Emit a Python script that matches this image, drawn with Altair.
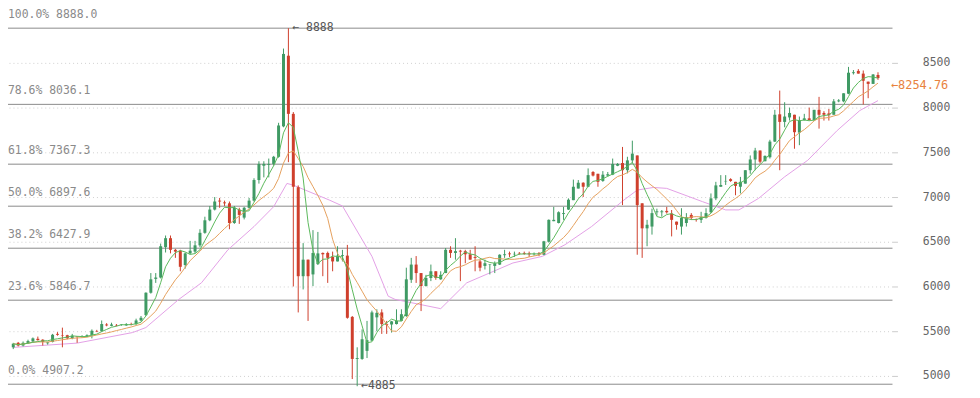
import altair as alt
import pandas as pd

# ---- candle data (index 0..176) ----
opens = [5320, 5370, 5340, 5365, 5385, 5415, 5405, 5365, 5380, 5470,
         5455, 5455, 5420, 5440, 5440, 5440, 5455, 5500, 5500, 5575,
         5560, 5570, 5570, 5565, 5580, 5580, 5620, 5680, 5930, 6085,
         6100, 6440, 6540, 6410, 6400, 6240, 6370, 6390, 6460, 6600,
         6740, 6860, 6960, 6940, 6930, 6710, 6860, 6770, 6880, 6960,
         7190, 7350, 7360, 7370, 7450, 7790, 8580, 7930, 7110, 6115,
         6300, 6135, 6250, 6375, 6375, 6330, 6280, 6340, 6345, 5660,
         5190, 5190, 5280, 5395, 5655, 5710, 5580, 5575, 5580, 5615,
         5670, 6075, 6245, 6150, 6005, 6095, 6170, 6080, 6150, 6410,
         6375, 6400, 6395, 6360, 6330, 6280, 6230, 6245, 6230, 6245,
         6350, 6370, 6360, 6375, 6375, 6370, 6360, 6370, 6355, 6500,
         6730, 6710, 6810, 6860, 6965, 7095, 7160, 7115, 7280, 7260,
         7180, 7240, 7250, 7350, 7380, 7300, 7410, 7465, 6930, 6650,
         6670, 6830, 6830, 6845, 6815, 6725, 6670, 6710, 6800, 6750,
         6745, 6765, 6830, 6985, 7115, 7175, 7200, 7170, 7115, 7150,
         7300, 7420, 7520, 7400, 7445, 7620, 7925, 7840, 7890, 7920,
         7720, 7860, 7880, 7860, 7975, 7940, 7935, 7920, 8070, 8070,
         8155, 8385, 8410, 8380, 8290, 8265, 8365]
highs = [5370, 5380, 5385, 5405, 5430, 5440, 5410, 5380, 5470, 5490,
         5540, 5460, 5470, 5440, 5455, 5465, 5520, 5515, 5620, 5590,
         5595, 5580, 5580, 5590, 5595, 5640, 5670, 5935, 6150, 6150,
         6480, 6570, 6570, 6420, 6410, 6380, 6510, 6510, 6640, 6780,
         6900, 7000, 6990, 6960, 6950, 6900, 6880, 6890, 6990, 7210,
         7400, 7400, 7430, 7460, 7830, 8660, 8888, 7950, 7130, 6485,
         6300, 6630, 6610, 6380, 6390, 6390, 6450, 6410, 6465, 5670,
         5320, 5520, 5615, 5730, 5745, 5745, 5615, 5615, 5745, 5745,
         6210, 6320, 6340, 6150, 6130, 6245, 6170, 6170, 6430, 6450,
         6540, 6410, 6410, 6410, 6450, 6300, 6300, 6250, 6280, 6360,
         6410, 6390, 6390, 6385, 6390, 6390, 6380, 6385, 6510, 6750,
         6890, 6840, 6890, 6985, 7195, 7190, 7165, 7320, 7290, 7260,
         7290, 7280, 7430, 7380, 7560, 7450, 7630, 7465, 6930, 6745,
         6870, 6870, 6855, 6890, 6855, 6725, 6875, 6820, 6820, 6760,
         6835, 6875, 7040, 7170, 7245, 7245, 7210, 7170, 7225, 7300,
         7465, 7550, 7520, 7465, 7640, 7975, 8190, 8060, 8000, 7920,
         7900, 7930, 8000, 7975, 8120, 7960, 7985, 8095, 8095, 8160,
         8455, 8420, 8430, 8415, 8290, 8375, 8395]
lows = [5300, 5330, 5330, 5360, 5380, 5395, 5340, 5350, 5375, 5450,
        5320, 5410, 5410, 5370, 5430, 5435, 5420, 5490, 5495, 5555,
        5555, 5555, 5560, 5560, 5565, 5570, 5610, 5670, 5920, 6040,
        6090, 6380, 6370, 6320, 6170, 6200, 6360, 6370, 6440, 6590,
        6730, 6850, 6880, 6900, 6640, 6700, 6700, 6750, 6870, 6950,
        7150, 7220, 7220, 7350, 7440, 7780, 7390, 6000, 5710, 5967,
        5615, 6004, 6240, 6115, 6040, 6170, 6280, 6280, 5640, 4965,
        4885, 5180, 5200, 5390, 5500, 5470, 5470, 5485, 5575, 5610,
        5660, 6040, 6040, 5725, 6000, 6060, 6075, 6075, 6150, 6320,
        6300, 6060, 6260, 6300, 6170, 6170, 6190, 6135, 6150, 6240,
        6320, 6330, 6330, 6355, 6355, 6330, 6345, 6340, 6350, 6490,
        6730, 6705, 6745, 6855, 6965, 7095, 7000, 7110, 7230, 7115,
        7170, 7230, 7245, 7345, 6910, 7265, 7375, 6355, 6320, 6450,
        6580, 6790, 6780, 6815, 6560, 6635, 6580, 6670, 6745, 6725,
        6710, 6760, 6820, 6965, 7115, 7135, 7170, 7020, 7040, 7150,
        7260, 7300, 7375, 7400, 7430, 7615, 7300, 7780, 7855, 7540,
        7580, 7855, 7855, 7855, 7765, 7855, 7855, 7920, 8060, 8060,
        8150, 8370, 8380, 8035, 8105, 8265, 8310]
closes = [5360, 5340, 5370, 5390, 5420, 5400, 5380, 5375, 5460, 5460,
          5450, 5420, 5450, 5435, 5445, 5455, 5505, 5495, 5580, 5565,
          5575, 5565, 5575, 5580, 5575, 5620, 5650, 5930, 6080, 6100,
          6450, 6540, 6410, 6390, 6220, 6370, 6400, 6460, 6600, 6740,
          6860, 6950, 6950, 6930, 6710, 6880, 6800, 6880, 6960, 7190,
          7370, 7370, 7370, 7450, 7800, 8600, 7930, 7115, 6115, 6300,
          6115, 6375, 6370, 6360, 6320, 6280, 6345, 6350, 5650, 5190,
          5200, 5410, 5400, 5710, 5705, 5580, 5570, 5610, 5615, 5690,
          6080, 6245, 6150, 6005, 6095, 6170, 6095, 6130, 6410, 6375,
          6395, 6390, 6360, 6300, 6320, 6210, 6260, 6250, 6260, 6355,
          6360, 6360, 6365, 6370, 6365, 6360, 6365, 6360, 6505, 6745,
          6745, 6830, 6820, 6970, 7115, 7160, 7115, 7245, 7240, 7170,
          7250, 7255, 7370, 7370, 7300, 7410, 7485, 6910, 6650, 6690,
          6820, 6840, 6840, 6830, 6745, 6690, 6765, 6775, 6765, 6745,
          6780, 6820, 6985, 7130, 7135, 7180, 7180, 7125, 7170, 7300,
          7420, 7520, 7395, 7460, 7620, 7920, 7840, 7900, 7940, 7725,
          7860, 7880, 7860, 7975, 7920, 7920, 7915, 8070, 8080, 8160,
          8390, 8395, 8380, 8300, 8265, 8370, 8330]

# slow average line (pink), read as points from the picture
pink_idx = [0, 13, 24.3, 27, 33.7, 38.3, 43.7, 49, 53, 55.7, 57, 64.3, 67, 73,
            76.3, 77.7, 87, 92.3, 101.7, 107.7, 112.3, 117.7, 124.3, 127,
            130.3, 133, 140.3, 145, 147.7, 151.7, 157, 161.7, 165.7, 167.7,
            172.3, 176]
pink_val = [5319, 5367, 5485, 5541, 5856, 6041, 6411, 6670, 6892, 7152, 7133,
            6967, 6900, 6337, 5892, 5856, 5752, 6041, 6263, 6337, 6467, 6670,
            6967, 7078, 7107, 7097, 6948, 6856, 6856, 6985, 7226, 7411, 7633,
            7744, 7967, 8078]

# Fibonacci levels
fib_pct = ["100.0%", "78.6%", "61.8%", "50.0%", "38.2%", "23.6%", "0.0%"]
fib_val = [8888.0, 8036.1, 7367.3, 6897.6, 6427.9, 5846.7, 4907.2]

y_ticks = [5000, 5500, 6000, 6500, 7000, 7500, 8000, 8500]

# annotations
hi_idx, hi_val = 56, 8888
lo_idx, lo_val = 70, 4885
last_idx, last_val = 176, 8254.76

FONT = "DejaVu Sans Mono"
GREEN = "#3f9a64"
RED = "#cf3f2c"

df = pd.DataFrame({"i": list(range(len(closes))), "open": opens, "high": highs,
                   "low": lows, "close": closes})
df["dir"] = ["up" if c >= o else "down" for o, c in zip(opens, closes)]

fib_df = pd.DataFrame({"v": fib_val,
                       "label": [f"{p} {v:.1f}" for p, v in zip(fib_pct, fib_val)]})
pink_df = pd.DataFrame({"i": pink_idx, "v": pink_val})
ann_df = pd.DataFrame({"i": [hi_idx, lo_idx], "v": [hi_val, lo_val],
                       "t": [f"\u2190 {hi_val}", f"\u2190{lo_val}"]})
last_df = pd.DataFrame({"i": [last_idx], "v": [last_val],
                        "t": [f"\u2190{last_val:.2f}"]})

xs = alt.Scale(domain=[-0.06, 177.94], nice=False, zero=False)
ys = alt.Scale(domain=[4855.6, 9100], nice=False, zero=False)
YAX = alt.Axis(orient="right", values=y_ticks, title=None, domain=False,
               grid=True, gridDash=[1, 3], gridColor="#d0d0d0",
               tickSize=5, tickColor="#cccccc", labelFont=FONT,
               labelFontSize=11.5, labelColor="#666666",
               labelPadding=25, format="d")
XAX = None
color = alt.Color("dir:N", scale=alt.Scale(domain=["up", "down"], range=[GREEN, RED]),
                  legend=None)


def X(field):
    return alt.X(field, scale=xs, axis=XAX)


def Y(field):
    return alt.Y(field, scale=ys, axis=YAX)


fib_rules = alt.Chart(fib_df).mark_rule(color="#8a8a8a", strokeWidth=1).encode(
    y=Y("v:Q"))

fib_text = alt.Chart(fib_df).mark_text(
    align="left", baseline="middle", dy=-13, font=FONT, fontSize=11.5,
    color="#8a8a8a").encode(x=alt.value(0), y=Y("v:Q"), text="label:N")

base = alt.Chart(df).encode(x=X("i:Q"))
wicks = base.mark_rule(strokeWidth=1).encode(y=Y("low:Q"), y2="high:Q", color=color)
bodies = base.mark_bar(size=3).encode(y=Y("open:Q"), y2="close:Q", color=color)

pink = alt.Chart(pink_df).mark_line(color="#e3a0e6", strokeWidth=1).encode(
    x=X("i:Q"), y=Y("v:Q"))

ma = alt.Chart(df).transform_window(
    ma5="mean(close)", frame=[-4, 0], sort=[alt.SortField("i")]
).transform_window(
    ma10="mean(close)", frame=[-9, 0], sort=[alt.SortField("i")]
)
ma10 = ma.mark_line(color="#e5a05e", strokeWidth=1).encode(x=X("i:Q"), y=Y("ma10:Q"))
ma5 = ma.mark_line(color="#5cb85c", strokeWidth=1).encode(x=X("i:Q"), y=Y("ma5:Q"))

ann = alt.Chart(ann_df).mark_text(
    align="left", baseline="middle", dx=4, font=FONT, fontSize=11.5,
    color="#555555").encode(x=X("i:Q"), y=Y("v:Q"), text="t:N")
last_lbl = alt.Chart(last_df).mark_text(
    align="left", baseline="middle", dx=13, font=FONT, fontSize=12,
    color="#e8823e").encode(x=X("i:Q"), y=Y("v:Q"), text="t:N")

chart = alt.layer(fib_rules, fib_text, pink, wicks, bodies, ma10, ma5, ann, last_lbl).properties(
    width=890, height=382,
    autosize=alt.AutoSizeParams(type="none"),
    padding={"left": 0, "top": 0, "right": 80, "bottom": 8},
).configure_view(stroke=None)

chart.save("out.html", embed_options={"renderer": "svg", "actions": False})
